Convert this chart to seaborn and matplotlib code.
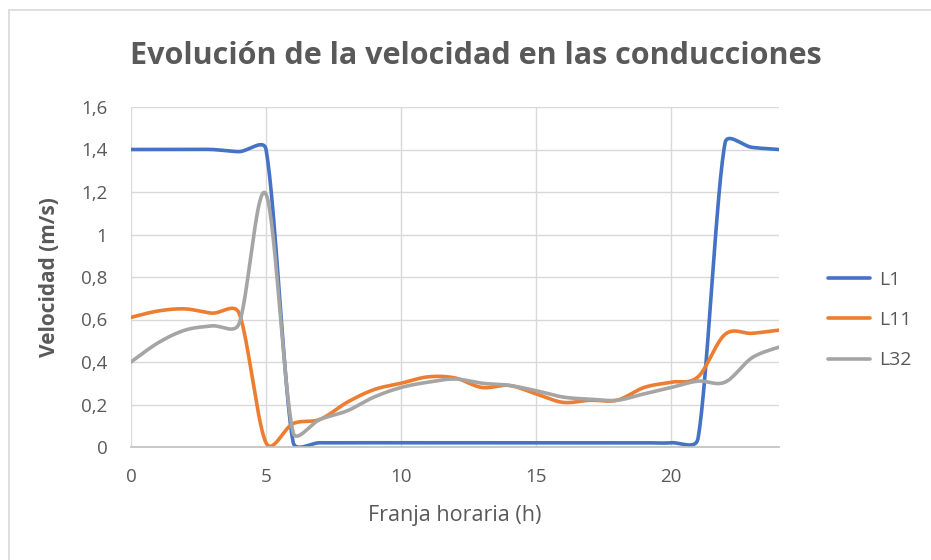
import numpy as np
import pandas as pd
import matplotlib
matplotlib.use("Agg")
import matplotlib.pyplot as plt
from matplotlib.lines import Line2D
import seaborn as sns

# hourly values
hours = list(range(25))
L1 = [1.40, 1.40, 1.40, 1.40, 1.39, 1.40, 0.025, 0.02, 0.02, 0.02, 0.02, 0.02, 0.02,
      0.02, 0.02, 0.02, 0.02, 0.02, 0.02, 0.02, 0.02, 0.04, 1.43, 1.41, 1.40]
L11 = [0.61, 0.64, 0.65, 0.63, 0.63, 0.02, 0.11, 0.13, 0.21, 0.27, 0.30, 0.33, 0.325,
       0.28, 0.29, 0.25, 0.21, 0.22, 0.22, 0.28, 0.305, 0.33, 0.53, 0.535, 0.55]
L32 = [0.40, 0.49, 0.55, 0.57, 0.58, 1.19, 0.07, 0.13, 0.17, 0.235, 0.28, 0.305, 0.32,
       0.30, 0.29, 0.265, 0.235, 0.225, 0.22, 0.25, 0.28, 0.31, 0.305, 0.42, 0.47]
series = {"L1": L1, "L11": L11, "L32": L32}
colors = {"L1": "#4472C4", "L11": "#ED7D31", "L32": "#A5A5A5"}

# pixel scale of the plot area, the smoothing is done on screen like excel does
XPX, YPX = 27.0, 212.5


def smooth(x, y, n=30):
    # bezier through the points, catmull-rom handles, capped on short segments
    P = np.column_stack([np.asarray(x, float) * XPX, np.asarray(y, float) * YPX])
    m = len(P)
    D = np.array([P[min(i + 1, m - 1)] - P[max(i - 1, 0)] for i in range(m)])
    t = np.linspace(0, 1, n, endpoint=False)[:, None]
    pts = []
    for i in range(m - 1):
        seg = np.hypot(*(P[i + 1] - P[i]))
        h = []
        for j in (i, i + 1):
            dl = np.hypot(*D[j])
            h.append(D[j] / dl * min(dl / 6, 0.45 * seg))
        c1 = P[i] + h[0]
        c2 = P[i + 1] - h[1]
        pts.append((1 - t)**3 * P[i] + 3 * (1 - t)**2 * t * c1 + 3 * (1 - t) * t**2 * c2 + t**3 * P[i + 1])
    pts.append(P[-1:])
    pts = np.vstack(pts)
    return pts[:, 0] / XPX, pts[:, 1] / YPX


frames = []
for name, vals in series.items():
    sx, sy = smooth(hours, vals)
    frames.append(pd.DataFrame({"hora": sx, "vel": sy, "linea": name}))
df = pd.concat(frames, ignore_index=True)

sns.set_style("white")
plt.rcParams["font.family"] = ["Open Sans", "DejaVu Sans"]
txt = "#595959"

fig = plt.figure(figsize=(9.31, 5.6), dpi=100)
ax = fig.add_axes([131 / 931, 1 - 447 / 560, 648 / 931, 340 / 560])

sns.lineplot(data=df, x="hora", y="vel", hue="linea", palette=colors, sort=False,
             linewidth=2.6, ax=ax, legend=False)

ax.set_xlim(0, 24)
ax.set_ylim(0, 1.6)
ax.set_xticks([0, 5, 10, 15, 20])
yt = np.round(np.arange(0, 1.61, 0.2), 1)
ax.set_yticks(yt)
ax.set_yticklabels([("%g" % v).replace(".", ",") for v in yt])
ax.grid(True, color="#d9d9d9", linewidth=1)
ax.set_axisbelow(True)
for s in ["top", "right", "left"]:
    ax.spines[s].set_visible(False)
ax.spines["bottom"].set_color("#bfbfbf")
ax.spines["bottom"].set_linewidth(1.2)
ax.tick_params(axis="both", length=0, labelsize=13.5, labelcolor=txt)
ax.tick_params(axis="y", pad=17)
ax.tick_params(axis="x", pad=15)

ax.set_xlabel("Franja horaria (h)", fontsize=15.5, color=txt, labelpad=14)
ax.set_ylabel("Velocidad (m/s)", fontsize=15, color=txt, fontweight="bold", labelpad=15)

fig.text(476 / 931, 1 - 56 / 560, "Evolución de la velocidad en las conducciones",
         ha="center", va="center", fontsize=22, fontweight="bold", color=txt)

handles = [Line2D([0], [0], color=colors[k], lw=2.6) for k in series]
fig.legend(handles, list(series), loc="center left", bbox_to_anchor=(810 / 931, 1 - 320 / 560),
           frameon=False, fontsize=14, labelcolor=txt, handlelength=2.2,
           handletextpad=0.45, labelspacing=1.15)

# thin outer chart border (top and left edges visible)
fig.add_artist(Line2D([9 / 931, 9 / 931], [0, 1 - 9.5 / 560], color="#d9d9d9", lw=1.2))
fig.add_artist(Line2D([9 / 931, 1], [1 - 9.5 / 560, 1 - 9.5 / 560], color="#d9d9d9", lw=1.2))

fig.savefig("out.png", dpi=100)
